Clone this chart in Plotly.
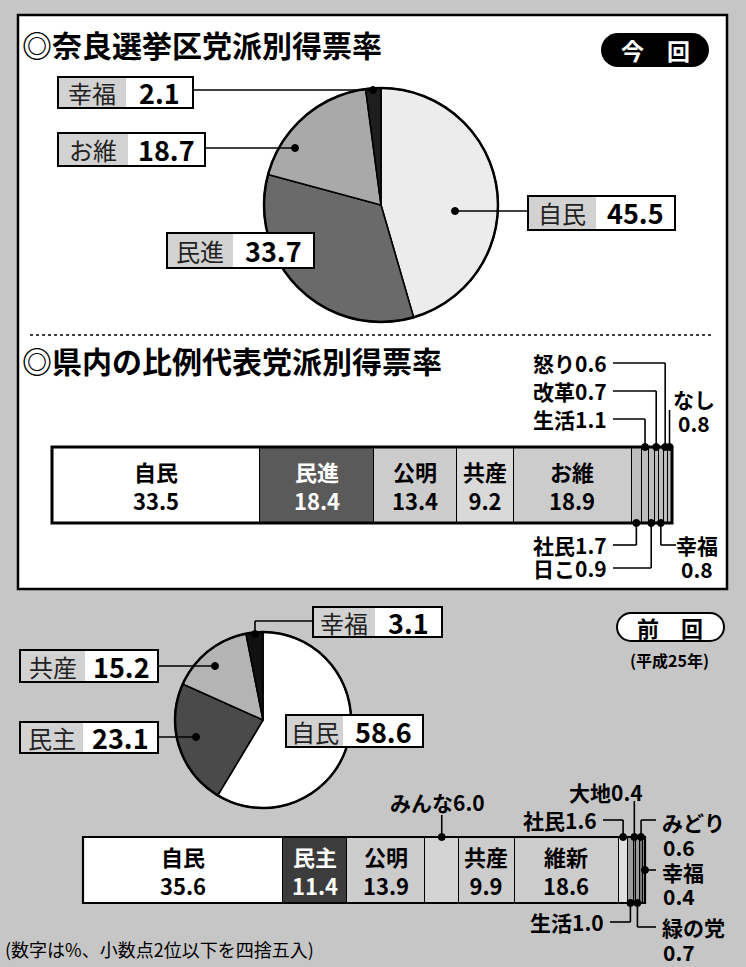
import plotly.graph_objects as go

W, H = 746, 967
FONT = "Noto Sans CJK JP"

# 奈良選挙区 党派別得票率 (今回)
pie1_parties = ["自民", "民進", "お維", "幸福"]
pie1_values = [45.5, 33.7, 18.7, 2.1]

# 県内の比例代表 党派別得票率 (今回)
bar1_parties = ["自民", "民進", "公明", "共産", "お維", "社民", "生活", "日こ", "改革", "幸福", "怒り", "なし"]
bar1_values = [33.5, 18.4, 13.4, 9.2, 18.9, 1.7, 1.1, 0.9, 0.7, 0.8, 0.6, 0.8]

# 前回 (平成25年)
pie2_parties = ["自民", "民主", "共産", "幸福"]
pie2_values = [58.6, 23.1, 15.2, 3.1]

bar2_parties = ["自民", "民主", "公明", "みんな", "共産", "維新", "社民", "生活", "大地", "緑の党", "みどり", "幸福"]
bar2_values = [35.6, 11.4, 13.9, 6.0, 9.9, 18.6, 1.6, 1.0, 0.4, 0.7, 0.6, 0.4]

# colours (greys, like the newsprint halftone)
pie1_colors = ["#ececec", "#6a6a6a", "#a9a9a9", "#1e1e1e"]
pie2_colors = ["#ffffff", "#4a4a4a", "#b4b4b4", "#111111"]
bar1_colors = ["#ffffff", "#5a5a5a", "#cccccc", "#d9d9d9", "#cccccc"] + ["#bdbdbd"] * 7
bar2_colors = ["#ffffff", "#3c3c3c", "#cccccc", "#d4d4d4", "#cccccc", "#cccccc",
               "#e0e0e0", "#9a9a9a", "#777777", "#9a9a9a", "#777777", "#9a9a9a"]
BG = "#c6c6c6"
NAME_BG = "#d2d2d2"


def X(p):
    return p / W


def Y(p):
    return 1 - p / H


def cumulative(vals):
    out, s = [], 0
    for v in vals:
        out.append(s)
        s += v
    return out


# each bar gets its own full-page axis pair so that its values land on the right pixels
def bar_axes(vals, left, right, top, bot):
    kx = (right - left) / sum(vals)
    ky = bot - top
    xr = [-left / kx, (W - left) / kx]
    yr = [0.5 - (H - top) / ky, 0.5 + top / ky]
    fx = lambda p: (p - left) / kx
    fy = lambda p: 0.5 - (p - top) / ky
    return xr, yr, fx, fy


xr1, yr1, fx1, fy1 = bar_axes(bar1_values, 52, 672, 447, 523)
xr2, yr2, fx2, fy2 = bar_axes(bar2_values, 83, 645, 837, 903)

shapes = []
annotations = []


def txt(text, x, y, size=21, anchor="center", color="black", weight=700, align=None):
    annotations.append(dict(
        text=text, x=X(x), y=Y(y), xref="paper", yref="paper",
        xanchor=anchor, yanchor="middle", showarrow=False,
        align=align or anchor,
        font=dict(family=FONT, size=size, color=color, weight=weight)))


def line(x0, y0, x1, y1, xref="paper", yref="paper", width=1.6, dash=None):
    if xref == "paper":
        x0, x1 = X(x0), X(x1)
    if yref == "paper":
        y0, y1 = Y(y0), Y(y1)
    shapes.append(dict(type="line", x0=x0, y0=y0, x1=x1, y1=y1, xref=xref, yref=yref,
                       layer="above", line=dict(color="black", width=width, dash=dash)))


def dot(x, y, xref="paper", yref="paper", r=3.5):
    shapes.append(dict(type="circle", xref=xref, yref=yref,
                       xsizemode="pixel", ysizemode="pixel",
                       xanchor=X(x) if xref == "paper" else x,
                       yanchor=Y(y) if yref == "paper" else y,
                       x0=-r, x1=r, y0=-r, y1=r, layer="above",
                       fillcolor="black", line=dict(color="black", width=1)))


def rect(x0, y0, x1, y1, fill, lw=0, layer="above"):
    shapes.append(dict(type="rect", xref="paper", yref="paper",
                       x0=X(x0), x1=X(x1), y0=Y(y0), y1=Y(y1), layer=layer,
                       fillcolor=fill, line=dict(color="black", width=lw)))


def label_box(x0, xm, x1, y0, y1, name, value):
    rect(x0, y0, xm, y1, NAME_BG)
    rect(xm, y0, x1, y1, "white")
    rect(x0, y0, x1, y1, "rgba(0,0,0,0)", lw=2)
    yc = (y0 + y1) / 2
    txt(name, (x0 + xm) / 2, yc, size=24, weight=400, color="#222")
    txt(value, (xm + x1) / 2, yc, size=27, weight=700)


def pill(x0, y0, x1, y1, fill, lw):
    r = (y1 - y0) / 2
    k = 0.5523 * r
    pts = [
        ("M", [(x0 + r, y0)]),
        ("L", [(x1 - r, y0)]),
        ("C", [(x1 - r + k, y0), (x1, y0 + r - k), (x1, y0 + r)]),
        ("C", [(x1, y0 + r + k), (x1 - r + k, y1), (x1 - r, y1)]),
        ("L", [(x0 + r, y1)]),
        ("C", [(x0 + r - k, y1), (x0, y0 + r + k), (x0, y0 + r)]),
        ("C", [(x0, y0 + r - k), (x0 + r - k, y0), (x0 + r, y0)]),
    ]
    path = " ".join(cmd + " " + " ".join(f"{X(a):.5f},{Y(b):.5f}" for a, b in p) for cmd, p in pts) + " Z"
    shapes.append(dict(type="path", path=path, xref="paper", yref="paper", layer="above",
                       fillcolor=fill, line=dict(color="black", width=lw)))


fig = go.Figure()

# ---- pies ----
for parties, vals, cols, cx, cy, r in [
    (pie1_parties, pie1_values, pie1_colors, 381, 205, 117),
    (pie2_parties, pie2_values, pie2_colors, 263, 720, 88),
]:
    fig.add_trace(go.Pie(
        labels=parties, values=vals, sort=False, direction="clockwise", rotation=0,
        textinfo="none", hoverinfo="label+value",
        marker=dict(colors=cols, line=dict(color="black", width=1.6)),
        domain=dict(x=[X(cx - r), X(cx + r)], y=[Y(cy + r), Y(cy - r)]),
        showlegend=False))
    shapes.append(dict(type="circle", xref="paper", yref="paper", layer="above",
                       x0=X(cx - r), x1=X(cx + r), y0=Y(cy + r), y1=Y(cy - r),
                       line=dict(color="black", width=2.5)))

# ---- stacked bars ----
for parties, vals, cols, xa, ya in [
    (bar1_parties, bar1_values, bar1_colors, "x", "y"),
    (bar2_parties, bar2_values, bar2_colors, "x2", "y2"),
]:
    for p, v, c in zip(parties, vals, cols):
        fig.add_trace(go.Bar(
            x=[v], y=[0], orientation="h", width=1, name=p,
            marker=dict(color=c, line=dict(color="black", width=1)),
            xaxis=xa, yaxis=ya, showlegend=False, hoverinfo="name+x"))
    shapes.append(dict(type="rect", xref=xa, yref=ya, x0=0, x1=sum(vals), y0=-0.5, y1=0.5,
                       layer="above", line=dict(color="black", width=3 if xa == "x" else 2.2)))

# labels inside the bars
for parties, vals, xa, ya, n, dark in [
    (bar1_parties, bar1_values, "x", "y", 5, 1),
    (bar2_parties, bar2_values, "x2", "y2", 6, 1),
]:
    starts = cumulative(vals)
    for i in range(n):
        if parties[i] == "みんな":
            continue
        annotations.append(dict(
            text=f"{parties[i]}<br>{vals[i]:.1f}", x=starts[i] + vals[i] / 2, y=0,
            xref=xa, yref=ya, showarrow=False, xanchor="center", yanchor="middle",
            font=dict(family=FONT, size=22, weight=700,
                      color="white" if i == dark else "black")))

# ---- top panel frame ----
rect(18, 15, 727, 589, "white", lw=2.5, layer="below")
line(30, 335, 712, 335, width=1.5, dash="dot")

txt("◎奈良選挙区党派別得票率", 20, 44, size=30, anchor="left")
txt("◎県内の比例代表党派別得票率", 20, 360, size=30, anchor="left")
pill(601, 33, 709, 67, "black", 0)
txt("今　回", 655, 50, size=23, color="white")

# pie 1 call-outs
line(193, 90, 373, 90)
dot(373, 90)
line(205, 148, 295, 148)
dot(295, 148)
line(455, 211, 528, 211)
dot(455, 211)
label_box(58, 126, 193, 77, 108, pie1_parties[3], f"{pie1_values[3]:.1f}")
label_box(58, 128, 205, 133, 166, pie1_parties[2], f"{pie1_values[2]:.1f}")
label_box(167, 233, 314, 233, 268, pie1_parties[1], f"{pie1_values[1]:.1f}")
label_box(528, 596, 675, 196, 230, pie1_parties[0], f"{pie1_values[0]:.1f}")

# bar 1 call-outs for the small parties
s1 = cumulative(bar1_values)
mid1 = lambda i: s1[i] + bar1_values[i] / 2
end1 = sum(bar1_values)
for i, ly in [(10, 363), (8, 391), (6, 419)]:
    line(mid1(i), fy1(447), mid1(i), fy1(ly), "x", "y")
    line(mid1(i), fy1(ly), fx1(613), fy1(ly), "x", "y")
    dot(mid1(i), 0.5, "x", "y")
    txt(f"{bar1_parties[i]}{bar1_values[i]:.1f}", 609, ly, anchor="right")
line(mid1(11), 0.5, mid1(11), fy1(410), "x", "y")
dot(mid1(11), 0.5, "x", "y")
txt(bar1_parties[11], 694, 399)
txt(f"{bar1_values[11]:.1f}", 694, 423)
for i, ly in [(5, 545), (7, 568)]:
    line(mid1(i), -0.5, mid1(i), fy1(ly), "x", "y")
    line(mid1(i), fy1(ly), fx1(613), fy1(ly), "x", "y")
    dot(mid1(i), -0.5, "x", "y")
    txt(f"{bar1_parties[i]}{bar1_values[i]:.1f}", 609, ly, anchor="right")
line(mid1(9), -0.5, mid1(9), fy1(545), "x", "y")
line(mid1(9), fy1(545), fx1(676), fy1(545), "x", "y")
dot(mid1(9), -0.5, "x", "y")
txt(bar1_parties[9], 697, 545)
txt(f"{bar1_values[9]:.1f}", 697, 569)

# ---- previous election ----
pill(617, 613, 724, 641, "white", 2)
txt("前　回", 670, 627, size=22)
txt("(平成25年)", 669, 660, size=16)

line(313, 621, 255, 621)
line(255, 621, 255, 634)
dot(255, 634)
line(158, 666, 215, 666)
dot(215, 666)
line(158, 737, 196, 737)
dot(196, 737)
label_box(313, 375, 442, 607, 637, pie2_parties[3], f"{pie2_values[3]:.1f}")
label_box(20, 85, 158, 650, 682, pie2_parties[2], f"{pie2_values[2]:.1f}")
label_box(20, 83, 158, 722, 753, pie2_parties[1], f"{pie2_values[1]:.1f}")
label_box(286, 343, 423, 715, 747, pie2_parties[0], f"{pie2_values[0]:.1f}")

s2 = cumulative(bar2_values)
mid2 = lambda i: s2[i] + bar2_values[i] / 2
end2 = sum(bar2_values)
# みんな
line(mid2(3), 0.5, mid2(3), fy2(815), "x2", "y2")
dot(mid2(3), 0.5, "x2", "y2")
txt(f"{bar2_parties[3]}{bar2_values[3]:.1f}", 438, 802)
# 社民
line(mid2(6), 0.5, mid2(6), fy2(820), "x2", "y2")
line(mid2(6), fy2(820), fx2(603), fy2(820), "x2", "y2")
dot(mid2(6), 0.5, "x2", "y2")
txt(f"{bar2_parties[6]}{bar2_values[6]:.1f}", 599, 820, anchor="right")
# 大地
line(mid2(8), 0.5, mid2(8), fy2(801), "x2", "y2")
dot(mid2(8), 0.5, "x2", "y2")
txt(f"{bar2_parties[8]}{bar2_values[8]:.1f}", 606, 792)
# みどり
line(mid2(10), 0.5, mid2(10), fy2(820), "x2", "y2")
line(mid2(10), fy2(820), fx2(656), fy2(820), "x2", "y2")
dot(mid2(10), 0.5, "x2", "y2")
txt(bar2_parties[10], 660, 822, anchor="left")
txt(f"{bar2_values[10]:.1f}", 661, 847, anchor="left")
# 幸福
line(end2, 0, fx2(656), 0, "x2", "y2")
dot(end2, 0, "x2", "y2")
txt(bar2_parties[11], 660, 872, anchor="left")
txt(f"{bar2_values[11]:.1f}", 661, 896, anchor="left")
# 生活
line(mid2(7), -0.5, mid2(7), fy2(922), "x2", "y2")
line(mid2(7), fy2(922), fx2(610), fy2(922), "x2", "y2")
dot(mid2(7), -0.5, "x2", "y2")
txt(f"{bar2_parties[7]}{bar2_values[7]:.1f}", 606, 922, anchor="right")
# 緑の党
line(mid2(9), -0.5, mid2(9), fy2(927), "x2", "y2")
line(mid2(9), fy2(927), fx2(656), fy2(927), "x2", "y2")
dot(mid2(9), -0.5, "x2", "y2")
txt(bar2_parties[9], 660, 927, anchor="left")
txt(f"{bar2_values[9]:.1f}", 661, 952, anchor="left")

txt("(数字は%、小数点2位以下を四捨五入)", 3, 949, size=18, anchor="left", weight=400)

hidden = dict(visible=False, fixedrange=True)
fig.update_layout(
    width=W, height=H, margin=dict(l=0, r=0, t=0, b=0),
    paper_bgcolor=BG, plot_bgcolor="rgba(0,0,0,0)",
    barmode="stack", showlegend=False,
    xaxis=dict(domain=[0, 1], range=xr1, anchor="y", **hidden),
    yaxis=dict(domain=[0, 1], range=yr1, anchor="x", **hidden),
    xaxis2=dict(domain=[0, 1], range=xr2, anchor="y2", **hidden),
    yaxis2=dict(domain=[0, 1], range=yr2, anchor="x2", **hidden),
    shapes=shapes, annotations=annotations,
    font=dict(family=FONT),
)

# the page's default body margin would push the figure 8px down and right
fig.write_html("out.html", config={"displayModeBar": False},
               post_script="document.body.style.margin='0px';")
